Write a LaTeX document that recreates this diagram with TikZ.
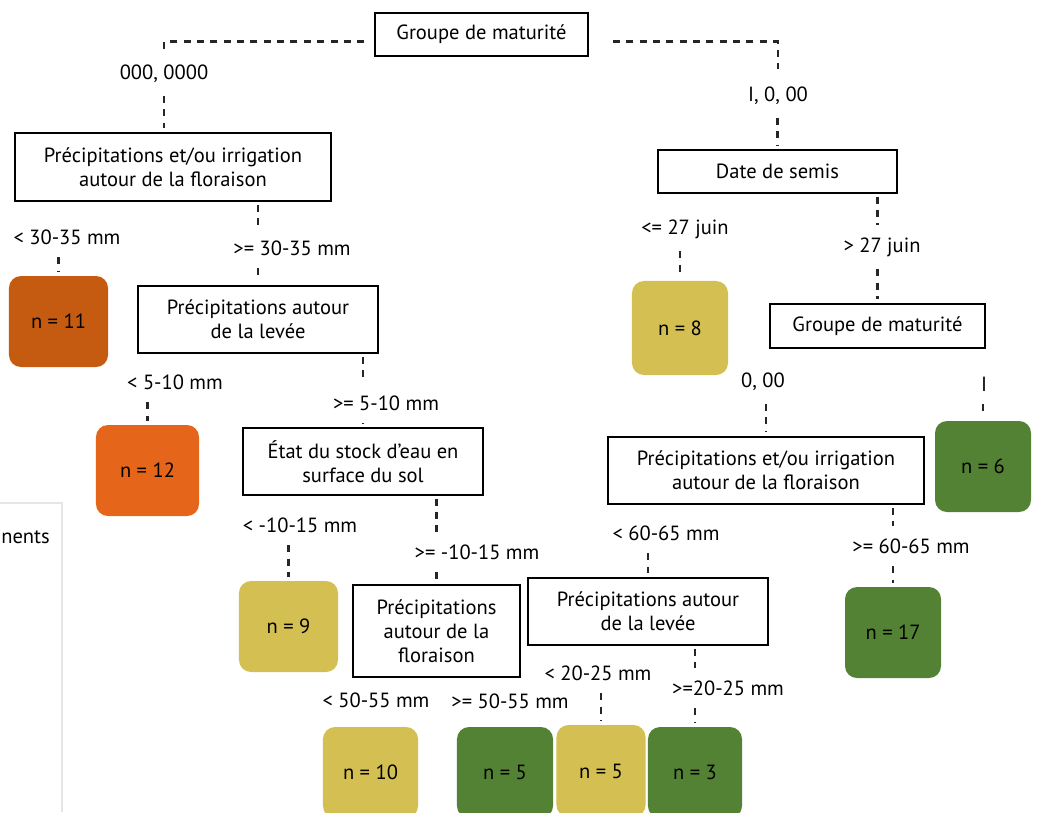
\documentclass[tikz,border=0pt]{standalone}
\usepackage{fontspec}
\setmainfont{PT Sans}
\definecolor{leafbrown}{HTML}{C55A11}
\definecolor{leaforange}{HTML}{E5661A}
\definecolor{leafyellow}{HTML}{D4BF52}
\definecolor{leafgreen}{HTML}{538234}
\tikzset{
  cond/.style = {draw, line width=1.2pt, fill=white, align=center, inner sep=0pt},
  leaf/.style = {rounded corners=0.3cm, minimum width=2.4cm, minimum height=2.275cm, inner sep=0pt},
  lbl/.style = {inner sep=3pt},
  edge/.style = {draw=black!85, line width=2pt, dash pattern=on 5pt off 4.5pt, shorten <=6pt, shorten >=3pt},
  edgeup/.style = {edge, shorten <=2pt, shorten >=6pt}
}
\begin{document}
\begin{tikzpicture}[x=0.025cm, y=-0.025cm, font=\fontsize{14.6}{17}\selectfont]
\useasboundingbox (0,0) rectangle (1037,812);
\draw[gray!20, line width=1.5pt] (0,503) -- (62,503) -- (62,812);
\node [anchor=west, inner sep=0pt] (legtxt) at (1,537) {nents};

\node [cond, minimum width=5.325cm, minimum height=1.075cm] (gm1) at (481.5,34.5) {Groupe de maturité};
\node [cond, minimum width=7.9cm, minimum height=1.7cm] (pf1) at (173,167) {Précipitations et/ou irrigation\\autour de la floraison};
\node [cond, minimum width=6cm, minimum height=1.675cm] (pl1) at (258,319.5) {Précipitations autour\\de la levée};
\node [cond, minimum width=6cm, minimum height=1.675cm] (stock) at (363,461.5) {État du stock d’eau en\\surface du sol};
\node [cond, minimum width=4.175cm, minimum height=2.3cm] (pf2) at (436.5,631) {Précipitations\\autour de la\\floraison};
\node [cond, minimum width=5.975cm, minimum height=1.075cm] (ds) at (777.5,171.5) {Date de semis};
\node [cond, minimum width=5.375cm, minimum height=1.1cm] (gm2) at (877.5,326) {Groupe de maturité};
\node [cond, minimum width=7.9cm, minimum height=1.675cm] (pf3) at (766,470.5) {Précipitations et/ou irrigation\\autour de la floraison};
\node [cond, minimum width=6cm, minimum height=1.675cm] (pl2) at (648,611.5) {Précipitations autour\\de la levée};

\node [leaf, fill=leafbrown, minimum width=2.475cm] (n11) at (58.5,321.5) {n = 11};
\node [leaf, fill=leaforange, minimum width=2.575cm] (n12) at (147.5,470.5) {n = 12};
\node [leaf, fill=leafyellow, minimum width=2.475cm] (n9) at (288.5,626.5) {n = 9};
\node [leaf, fill=leafyellow, minimum width=2.375cm] (n10) at (370.5,772.5) {n = 10};
\node [leaf, fill=leafgreen] (n5a) at (505,772.5) {n = 5};
\node [leaf, fill=leafyellow, minimum height=2.35cm] (n8) at (680,328) {n = 8};
\node [leaf, fill=leafgreen] (n6) at (983,466.5) {n = 6};
\node [leaf, fill=leafgreen] (n17) at (893,632.5) {n = 17};
\node [leaf, fill=leafyellow, minimum width=2.225cm, minimum height=2.3cm] (n5b) at (601,771) {n = 5};
\node [leaf, fill=leafgreen, minimum width=2.35cm] (n3) at (695,772.5) {n = 3};

\node [lbl] (t000) at (164,74) {000, 0000};
\node [lbl] (tI00) at (778,96) {I, 0, 00};
\node [lbl] (t30a) at (67,237) {< 30-35 mm};
\node [lbl] (t30b) at (292,248) {>= 30-35 mm};
\node [lbl] (t5a) at (175,382) {< 5-10 mm};
\node [lbl] (t5b) at (386,403) {>= 5-10 mm};
\node [lbl] (t10a) at (300,525) {< -10-15 mm};
\node [lbl] (t10b) at (477,552) {>= -10-15 mm};
\node [lbl] (t50a) at (376,700) {< 50-55 mm};
\node [lbl] (t50b) at (510,701) {>= 50-55 mm};
\node [lbl] (tj1) at (685,229) {<= 27 juin};
\node [lbl] (tj2) at (882,247) {> 27 juin};
\node [lbl] (tg1) at (763,382) {0, 00};
\node [lbl] (tg2) at (984,384) {I};
\node [lbl] (t60a) at (666,533) {< 60-65 mm};
\node [lbl] (t60b) at (911,546) {>= 60-65 mm};
\node [lbl] (t20a) at (598,673) {< 20-25 mm};
\node [lbl] (t20b) at (728,688) {>=20-25 mm};

\draw [edge, shorten <=7pt, shorten >=8pt] ([yshift=-5pt]gm1.west) -| (t000.north);
\draw [edge, shorten <=17pt, shorten >=10pt] ([yshift=-5pt]gm1.east) -| (tI00.north);
\draw [edge] (t000.south) -- (t000.south |- pf1.north);
\draw [edge] (ds.north |- tI00.south) -- (ds.north);
\draw [edgeup] (pl1.north |- pf1.south) -- (pl1.north |- t30b.north);
\draw [edge] (pl1.north |- t30b.south) -- (pl1.north);
\draw [edge] (n11.north |- t30a.south) -- (n11.north);
\draw [edge] (n12.north |- t5a.south) -- (n12.north);
\draw [edgeup] (stock.north |- pl1.south) -- (stock.north |- t5b.north);
\draw [edge] (stock.north |- t5b.south) -- (stock.north);
\draw [edge] (n9.north |- t10a.south) -- (n9.north);
\draw [edgeup] (pf2.north |- stock.south) -- (pf2.north |- t10b.north);
\draw [edge] (pf2.north |- t10b.south) -- (pf2.north);
\draw [edge] (n8.north |- tj1.south) -- (n8.north);
\draw [edgeup] (gm2.north |- ds.south) -- (gm2.north |- tj2.north);
\draw [edge] (gm2.north |- tj2.south) -- (gm2.north);
\draw [edge] (pf3.north |- tg1.south) -- (pf3.north);
\draw [edge] (n6.north |- tg2.south) -- (n6.north);
\draw [edge] (pl2.north |- t60a.south) -- (pl2.north);
\draw [edgeup] (n17.north |- pf3.south) -- (n17.north |- t60b.north);
\draw [edge] (n17.north |- t60b.south) -- (n17.north);
\draw [edge] (n5b.north |- t20a.south) -- (n5b.north);
\draw [edgeup] (n3.north |- pl2.south) -- (n3.north |- t20b.north);
\draw [edge] (n3.north |- t20b.south) -- (n3.north);
\end{tikzpicture}
\end{document}
